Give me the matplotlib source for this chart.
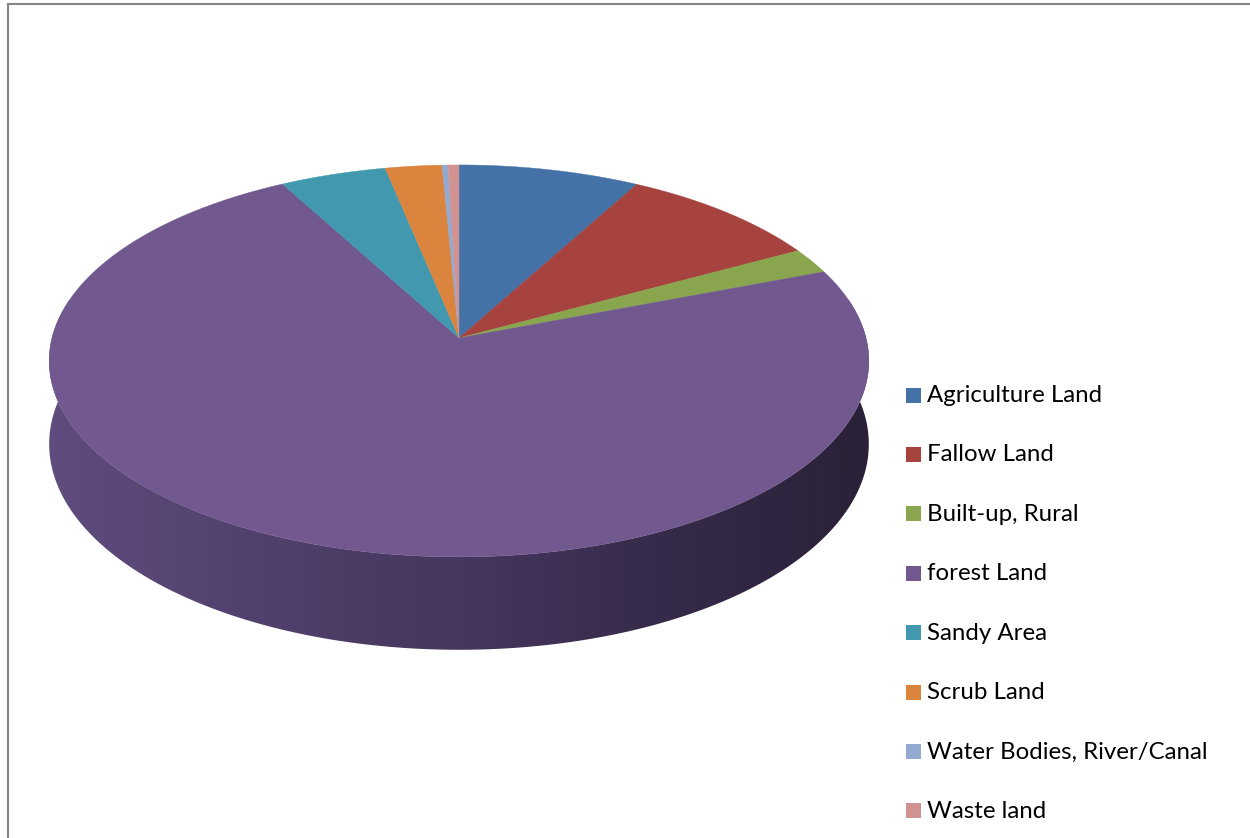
import numpy as np
import matplotlib
matplotlib.use("Agg")
import matplotlib.pyplot as plt
from matplotlib.patches import Polygon, Rectangle
from matplotlib.lines import Line2D

categories = ["Agriculture Land", "Fallow Land", "Built-up, Rural", "forest Land",
              "Sandy Area", "Scrub Land", "Water Bodies, River/Canal", "Waste land"]
values = [8.0, 9.1, 2.1, 72.9, 4.7, 2.5, 0.26, 0.48]
colors = ["#4471A6", "#A6433F", "#89A54E", "#71588F",
          "#4198AF", "#DB843D", "#93A9CF", "#D19392"]

W, H = 1250, 838
fig = plt.figure(figsize=(12.5, 8.38), dpi=100)
ax = fig.add_axes([0, 0, 1, 1])
ax.set_xlim(0, W)
ax.set_ylim(H, 0)
ax.axis('off')

# perspective pie geometry
cx, cy = 459, 338
s, t, a = 407, 193.3, 0.117
hpx = 82


def proj(theta, drop=0.0):
    X = np.sin(theta)
    Z = np.cos(theta)
    d = 1 + a * Z
    return cx + s * X / d, cy - t * Z / d + drop * hpx / d


# side wall (front) with horizontal gradient, clipped to the wall outline
th = np.linspace(np.radians(70), np.radians(290), 400)
xt, yt = proj(th)
xb, yb = proj(th[::-1], 1)
wall = Polygon(list(zip(xt, yt)) + list(zip(xb, yb)), closed=True,
               facecolor='none', edgecolor='none', zorder=1)
ax.add_patch(wall)
gx = [49, 300, 460, 650, 870]
gr = [96, 78, 70, 55, 42]
gg = [76, 62, 55, 43, 33]
gb = [126, 105, 94, 75, 56]
xs_img = np.linspace(40, 880, 600)
row = np.stack([np.interp(xs_img, gx, gr), np.interp(xs_img, gx, gg),
                np.interp(xs_img, gx, gb)], axis=-1) / 255.0
img = np.repeat(row[None, :, :], 4, axis=0)
im = ax.imshow(img, extent=(40, 880, 680, 300), aspect='auto',
               interpolation='bilinear', zorder=1)
im.set_clip_path(wall)
ax.set_xlim(0, W)
ax.set_ylim(H, 0)

# top face slices
fr = np.array(values) / np.sum(values)
bounds = np.concatenate([[0], np.cumsum(fr)]) * 2 * np.pi
for i, c in enumerate(colors):
    n = max(3, int((bounds[i + 1] - bounds[i]) / (2 * np.pi) * 720))
    tt = np.linspace(bounds[i], bounds[i + 1], n)
    xs, ys = proj(tt)
    pts = [(cx, cy)] + list(zip(xs, ys))
    ax.add_patch(Polygon(pts, closed=True, facecolor=c, edgecolor=c,
                         linewidth=0.3, zorder=2))

# legend
fontfam = ["Lato", "DejaVu Sans"]
ly0, dy = 395.5, 59.4
for i, (lab, c) in enumerate(zip(categories, colors)):
    y = ly0 + i * dy
    ax.add_patch(Rectangle((906, y - 8), 15, 15, facecolor=c, edgecolor='none', zorder=3))
    ax.text(927, y, lab, fontsize=17.3, family=fontfam, va='center', ha='left',
            color='#000000', zorder=3)

# border
ax.add_line(Line2D([8, 8], [4, H], color='#868686', linewidth=1.5, zorder=4))
ax.add_line(Line2D([8, W], [4, 4], color='#868686', linewidth=1.5, zorder=4))

fig.savefig("out.png", dpi=100)
